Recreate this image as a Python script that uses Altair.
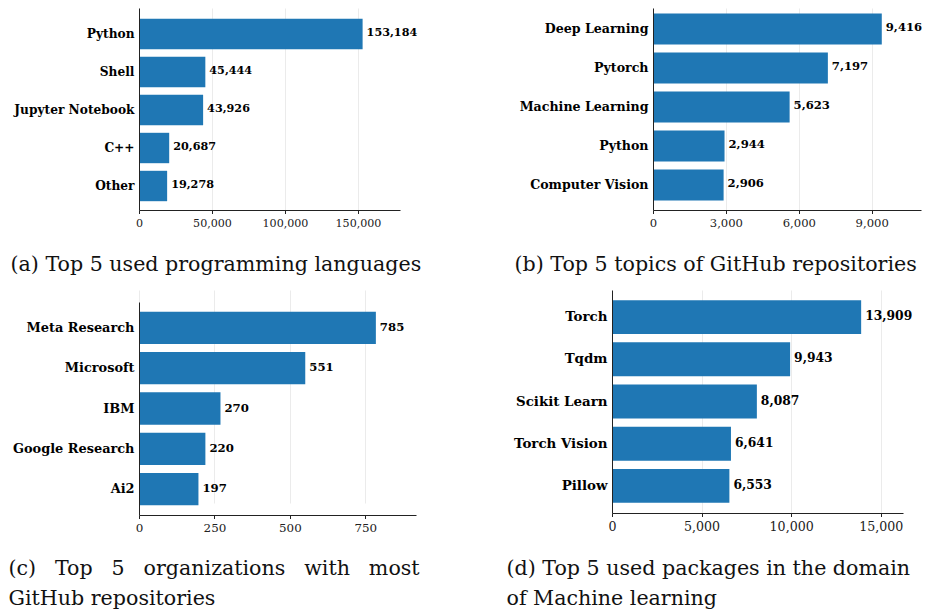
import altair as alt
import pandas as pd

# ---- data -------------------------------------------------------------
lang_names = ["Python", "Shell", "Jupyter Notebook", "C++", "Other"]
lang_counts = [153184, 45444, 43926, 20687, 19278]
lang_ticks = [0, 50000, 100000, 150000]

topic_names = ["Deep Learning", "Pytorch", "Machine Learning", "Python", "Computer Vision"]
topic_counts = [9416, 7197, 5623, 2944, 2906]
topic_ticks = [0, 3000, 6000, 9000]

org_names = ["Meta Research", "Microsoft", "IBM", "Google Research", "Ai2"]
org_counts = [785, 551, 270, 220, 197]
org_ticks = [0, 250, 500, 750]

pkg_names = ["Torch", "Tqdm", "Scikit Learn", "Torch Vision", "Pillow"]
pkg_counts = [13909, 9943, 8087, 6641, 6553]
pkg_ticks = [0, 5000, 10000, 15000]

GAP = "\u2009\u2009\u2009 "
caption_a = ["(a) Top 5 used programming languages"]
caption_b = ["(b) Top 5 topics of GitHub repositories"]
caption_c = ["(c)" + GAP + "Top" + GAP + "5" + GAP + "organizations" + GAP + "with" + GAP + "most",
             "GitHub repositories"]
caption_d = ["(d) Top 5 used packages in the domain", "of Machine learning"]

SERIF = "DejaVu Serif"
BLUE = "#1f77b4"


def panel(names, counts, ticks, xmax, caption, w, h, lead, fs_tick, fs_cat, fs_val,
          title_pad, po=0.24, al=0.5, yrange=None):
    df = pd.DataFrame({"name": names, "count": counts})
    x = alt.X(
        "count:Q",
        scale=alt.Scale(domain=[0, xmax], nice=False, zero=True),
        axis=alt.Axis(
            values=ticks, format=",.0f", grid=True, gridColor="#ebebeb", gridWidth=1,
            domainColor="#222", domainWidth=1, tickColor="#222", tickSize=3.5,
            labelPadding=3.5, labelFont=SERIF, labelFontSize=fs_tick, labelColor="#222",
            labelFlush=False, labelOverlap=False,
            title=caption, titleFont=SERIF, titleFontSize=20.6, titleFontWeight="normal",
            titleColor="#111", titleAnchor="start", titleAlign="left",
            titleBaseline="alphabetic", titleX=-lead, titlePadding=title_pad,
            titleLineHeight=30, minExtent=18, maxExtent=18, zindex=0,
        ),
    )
    yscale = dict(paddingInner=0.2, paddingOuter=po, align=al)
    if yrange:
        yscale["range"] = yrange
    y = alt.Y(
        "name:N", sort=names,
        scale=alt.Scale(**yscale),
        axis=alt.Axis(
            title=None, ticks=False, domain=True, domainColor="#222", domainWidth=1,
            labelFont=SERIF, labelFontWeight="bold", labelFontSize=fs_cat, labelColor="#000",
            labelPadding=5, labelLimit=300, grid=False, zindex=1,
        ),
    )
    base = alt.Chart(df)
    bars = base.mark_bar(color=BLUE).encode(x=x, y=y)
    text = base.mark_text(
        align="left", baseline="middle", dx=4, dy=-1, font=SERIF,
        fontWeight="bold", fontSize=fs_val, color="#000",
    ).encode(x=x, y=y, text=alt.Text("count:Q", format=",.0f"))
    return alt.layer(bars, text).properties(width=w, height=h)


a = panel(lang_names, lang_counts, lang_ticks, 178800, caption_a, 261, 202, 129,
          11.1, 12.2, 11.2, 42, po=0.258, al=0.551)
b = panel(topic_names, topic_counts, topic_ticks, 11030, caption_b, 268, 202, 139,
          11.6, 12.6, 11.6, 42, po=0.19, al=0.365)
c = panel(org_names, org_counts, org_ticks, 918, caption_c, 277, 225, 131,
          11.9, 12.9, 11.7, 41, yrange=[12, 225])
d = panel(pkg_names, pkg_counts, pkg_ticks, 16245, caption_d, 291, 223, 106,
          12.6, 13.4, 12.3, 43)

row1 = alt.hconcat(a, b, spacing=93)
row2 = alt.hconcat(c, d, spacing=86)

chart = (
    alt.vconcat(row1, row2, spacing=15)
    .properties(padding={"left": 0, "top": 0, "right": 0, "bottom": 0})
    .configure_view(strokeWidth=0)
)

chart.save("out.html", embed_options={"renderer": "svg", "actions": False})
